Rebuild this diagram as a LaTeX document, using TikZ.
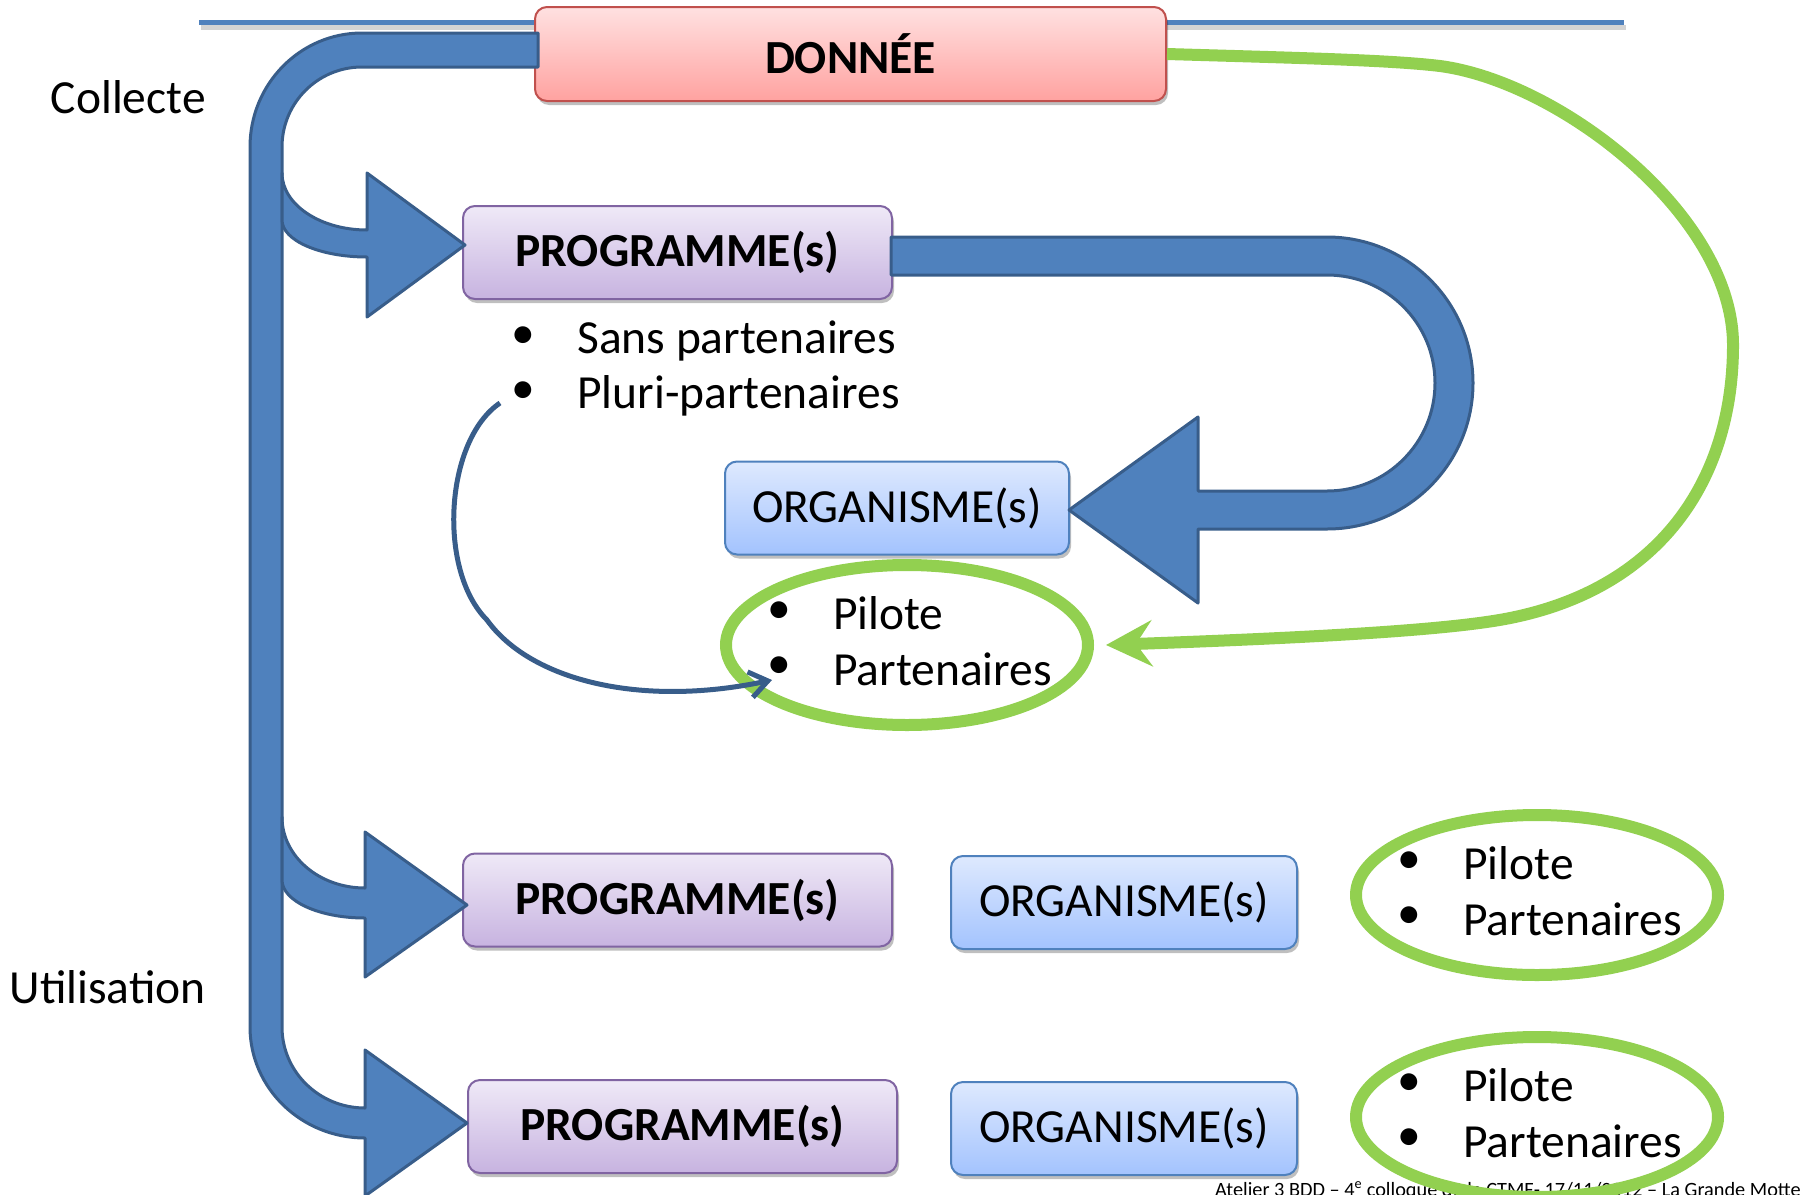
\documentclass[tikz,border=0pt]{standalone}
\usepackage{fontspec}
\setmainfont{Carlito}
\usepackage{tikz}
\usetikzlibrary{arrows.meta}
\usetikzlibrary{shapes.geometric, shadows, calc}
\definecolor{bandfill}{HTML}{4F81BD}
\definecolor{bandline}{HTML}{385D8A}
\definecolor{ringgreen}{HTML}{92D050}
\definecolor{datatop}{HTML}{FFE1E1}
\definecolor{databot}{HTML}{FFA2A0}
\definecolor{dataline}{HTML}{C0504D}
\definecolor{progtop}{HTML}{EFE9F7}
\definecolor{progbot}{HTML}{C7B3E0}
\definecolor{progline}{HTML}{8064A2}
\definecolor{orgtop}{HTML}{DEE9FE}
\definecolor{orgbot}{HTML}{A3C3FE}
\definecolor{orgline}{HTML}{4F81BD}
\newcommand\slidefont{\fontsize{47.5}{57}\selectfont}
\tikzset{
box shadow/.style = { drop shadow = {shadow xshift = 2pt, shadow yshift = -4pt, fill = black, opacity = 0.25} },
data box/.style = { rectangle, draw = dataline, line width = 2pt, top color = datatop, bottom color = databot, rounded corners = 12pt, minimum width = 631pt, minimum height = 94pt, font = \slidefont\bfseries, box shadow },
prog box/.style = { rectangle, draw = progline, line width = 2pt, top color = progtop, bottom color = progbot, rounded corners = 12pt, minimum width = 429pt, minimum height = 93pt, font = \slidefont\bfseries, box shadow },
org box/.style = { rectangle, draw = orgline, line width = 2pt, top color = orgtop, bottom color = orgbot, rounded corners = 12pt, minimum width = 346pt, minimum height = 93pt, font = \slidefont, box shadow },
ring/.style = { ellipse, draw = ringgreen, line width = 12pt, minimum width = 362pt, minimum height = 160pt, inner sep = 0pt },
big arrow/.style = { draw = bandline, fill = bandfill, line width = 3pt, line join = round },
blt/.style = { inner sep = 0pt, font = \slidefont },
list item/.style = { anchor = base west, inner sep = 0pt, font = \slidefont },
side label/.style = { anchor = base east, inner sep = 0pt, font = \slidefont },
}

\begin{document}
\begin{tikzpicture}[x = 1pt, y = -1pt]
    \useasboundingbox (0, 0) rectangle (1815, 1194);
    % top rule
    \draw[gray, opacity = 0.35, line width = 5pt] (201, 27) -- (1626, 27);
    \draw[bandfill, line width = 5pt] (199, 22) -- (1624, 22);
    % boxes
    \node[data box] (donnee) at (850.5, 54) {DONNÉE};
    \node[prog box] (prog1) at (677.5, 252.5) {PROGRAMME(s)};
    \node[org box, minimum width = 344pt] (org1) at (897, 508) {ORGANISME(s)};
    \node[prog box] (prog2) at (677.5, 900) {PROGRAMME(s)};
    \node[org box] (org2) at (1124, 902.5) {ORGANISME(s)};
    \node[prog box] (prog3) at (682.5, 1126.5) {PROGRAMME(s)};
    \node[org box] (org3) at (1124, 1128.5) {ORGANISME(s)};
    % collecte / utilisation band
    \draw[big arrow] (538, 33) -- (362, 33)
        arc[start angle = -90, end angle = -180, x radius = 112, y radius = 114]
        -- (250, 1027)
        arc[start angle = 180, end angle = 90, x radius = 115, y radius = 111]
        -- (365, 1196) -- (467, 1123) -- (365, 1050) -- (365, 1108)
        arc[start angle = 90, end angle = 180, x radius = 83, y radius = 81]
        -- (282, 147)
        arc[start angle = 180, end angle = 270, radius = 80]
        -- (538, 67) -- cycle;
    \draw[big arrow] (282, 173) arc[start angle = 180, end angle = 90, x radius = 85, y radius = 57]
        -- (367, 173) -- (465, 245) -- (367, 317) -- (367, 257)
        arc[start angle = 90, end angle = 180, x radius = 85, y radius = 37] -- cycle;
    \draw[big arrow] (282, 817) arc[start angle = 180, end angle = 90, x radius = 83, y radius = 71]
        -- (365, 832) -- (467, 905) -- (365, 977) -- (365, 918)
        arc[start angle = 90, end angle = 180, x radius = 83, y radius = 38] -- cycle;
    % loop from programme to organisme
    \draw[big arrow] (891, 237) -- (1327, 237)
        arc[start angle = -90, end angle = 90, radius = 146]
        -- (1198, 529) -- (1198, 603) -- (1069, 510) -- (1198, 417) -- (1198, 491) -- (1327, 491)
        arc[start angle = 90, end angle = -90, radius = 108]
        -- (891, 275) -- cycle;
    % labels
    \node[side label] (collecte) at (206, 113) {Collecte};
    \node[side label] (utilisation) at (206, 1003) {Utilisation};
    \node[blt] (sansb) at (523, 338) {\textbullet};
    \node[blt] (plurib) at (523, 393) {\textbullet};
    \node[list item] (sans) at (577, 353) {Sans partenaires};
    \node[list item] (pluri) at (577, 408) {Pluri-partenaires};
    \node[blt] (pil1b) at (779, 613) {\textbullet};
    \node[blt] (par1b) at (779, 668) {\textbullet};
    \node[list item] (pil1) at (833, 629) {Pilote};
    \node[list item] (par1) at (833, 685) {Partenaires};
    \node[blt] (pil2b) at (1409, 863) {\textbullet};
    \node[blt] (par2b) at (1409, 918) {\textbullet};
    \node[list item] (pil2) at (1463, 879) {Pilote};
    \node[list item] (par2) at (1463, 935) {Partenaires};
    \node[blt] (pil3b) at (1409, 1085) {\textbullet};
    \node[blt] (par3b) at (1409, 1140) {\textbullet};
    \node[list item] (pil3) at (1463, 1101) {Pilote};
    \node[list item] (par3) at (1463, 1157) {Partenaires};
    \node[anchor = base west, inner sep = 0pt, font = \fontsize{20.3}{24}\selectfont] (footer) at (1215, 1196)
        {Atelier 3 BDD – 4\textsuperscript{e} colloque de la CTMF- 17/11/2012 – La Grande Motte};
    % rings
    \node[ring] (ring1) at (907, 645) {};
    \node[ring] (ring2) at (1537, 895) {};
    \node[ring] (ring3) at (1537, 1117) {};
    % retour vers le pilote
    \draw[ringgreen, line width = 12pt, -{Stealth[length = 46pt, width = 46pt, inset = 16pt]}]
        (donnee.east) .. controls (1300, 58) and (1390, 60) .. (1440, 66)
        .. controls (1560, 82) and (1733, 215) .. (1733, 345)
        .. controls (1733, 480) and (1660, 590) .. (1505, 619)
        .. controls (1440, 631) and (1300, 638) .. ($(ring1.east) + (12, 0)$);
    \draw[bandline, line width = 5pt, -{Straight Barb[length = 18pt, width = 26pt]}]
        ($(plurib.center) + (-23, 10)$) .. controls (445, 440) and (437, 570) .. (487, 620)
        .. controls (530, 680) and (640, 708) .. ($(par1b.center) + (-7, 12)$);
\end{tikzpicture}
\end{document}
